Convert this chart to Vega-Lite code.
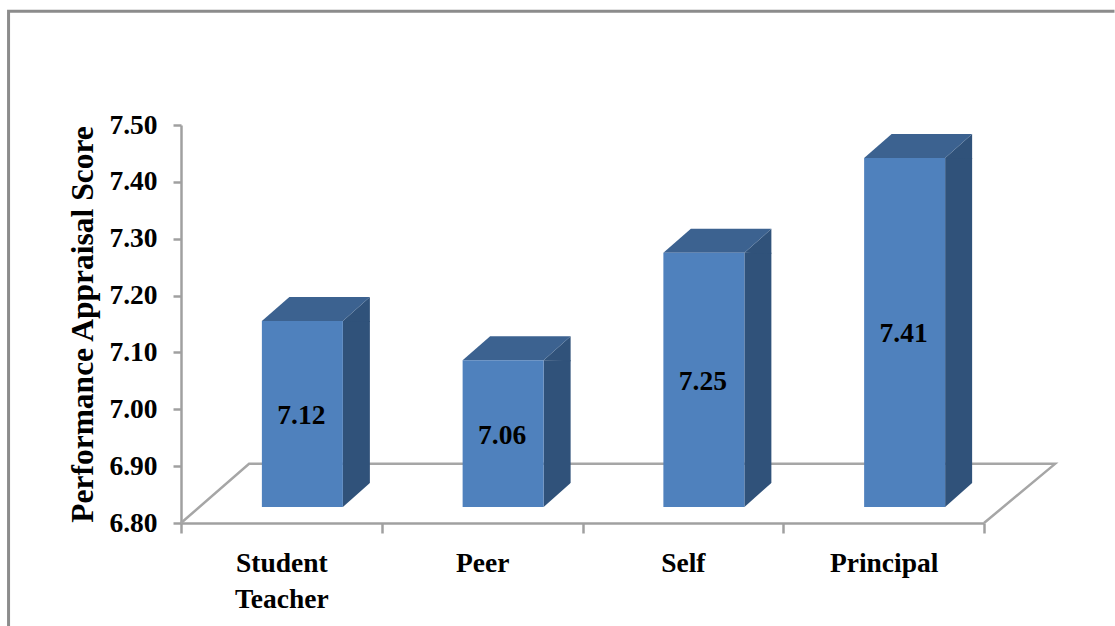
{
"$schema":"https://vega.github.io/schema/vega-lite/v6.json",
"width":803,"height":398,
"autosize":{"type":"none"},
"padding":{"left":181,"top":125,"right":131,"bottom":103},
"background":"white",
"config":{"view":{"stroke":null},"font":"Liberation Serif",
 "axisY":{"grid":false,
    "domainColor":"#a0a0a0","domainWidth":2.5,"tickColor":"#a0a0a0","tickWidth":2.5,"tickSize":8,
    "labelFont":"Liberation Serif","labelFontWeight":"bold","labelFontSize":27.5,"labelColor":"black","labelPadding":16,
    "titleFont":"Liberation Serif","titleFontWeight":"bold","titleFontSize":31.5,"titleColor":"black","titlePadding":9}},
"datasets":{
"bars":[
{"category":"Student Teacher","score":7.12,"drawn":7.127},
{"category":"Peer","score":7.06,"drawn":7.058},
{"category":"Self","score":7.25,"drawn":7.247},
{"category":"Principal","score":7.41,"drawn":7.414}
],
"frame":[
{"i":0,"slot":-0.859,"level":6.619},
{"i":1,"slot":-0.859,"level":7.70},
{"i":2,"slot":4.65,"level":7.70}
],
"floor":[
{"i":0,"slot":0,"level":6.8},
{"i":1,"slot":0.339,"level":6.904},
{"i":2,"slot":4.354,"level":6.904},
{"i":3,"slot":4,"level":6.8}
]
},
"resolve":{"scale":{"x":"independent","y":"shared"},"axis":{"x":"independent","y":"shared"}},
"layer":[
{"data":{"name":"frame"},
 "mark":{"type":"line","color":"#8c8c8c","strokeWidth":3,"clip":false},
 "encoding":{
  "x":{"field":"slot","type":"quantitative","scale":{"domain":[0,4],"nice":false,"zero":false},"axis":null},
  "y":{"field":"level","type":"quantitative","scale":{"domain":[6.8,7.5],"nice":false,"zero":false},"title":"Performance Appraisal Score","axis":{"values":[6.8,6.9,7.0,7.1,7.2,7.3,7.4,7.5],"format":".2f"}},
  "order":{"field":"i"}}},
{"data":{"name":"floor"},
 "mark":{"type":"line","color":"#a6a6a6","strokeWidth":2.5,"clip":false},
 "encoding":{
  "x":{"field":"slot","type":"quantitative","scale":{"domain":[0,4],"nice":false,"zero":false},"axis":null},
  "y":{"field":"level","type":"quantitative","title":"Performance Appraisal Score","axis":{"values":[6.8,6.9,7.0,7.1,7.2,7.3,7.4,7.5],"format":".2f"}},
  "order":{"field":"i"}}},
{"data":{"name":"bars"},
 "encoding":{
  "x":{"field":"category","type":"nominal","sort":null,"scale":{"paddingInner":0,"paddingOuter":0},
   "axis":{"title":null,"labelAngle":0,"tickBand":"extent","domainColor":"#a0a0a0","domainWidth":2.5,"tickColor":"#a0a0a0","tickWidth":2.5,"tickSize":10,
    "labelFont":"Liberation Serif","labelFontWeight":"bold","labelFontSize":27.5,"labelColor":"black","labelPadding":16,"labelLineHeight":36,"labelLimit":300,
    "labelExpr":"datum.label == 'Student Teacher' ? ['Student','Teacher'] : datum.label"}},
  "y":{"field":"drawn","type":"quantitative","title":"Performance Appraisal Score","axis":{"values":[6.8,6.9,7.0,7.1,7.2,7.3,7.4,7.5],"format":".2f"}}
 },
 "layer":[
  {"mark":{"type":"bar","size":27,"xOffset":75,"yOffset":-16,"y2Offset":-16,"color":"#30527a"},"encoding":{"y2":{"datum":6.8}}},
  {"mark":{"type":"point","filled":true,"opacity":1,"size":4,"color":"#30527a","strokeWidth":0,"shape":"M61.5,-16 L88.5,-40 L88.5,-15 Z"}},
  {"mark":{"type":"point","filled":true,"opacity":1,"size":4,"color":"white","strokeWidth":0,"shape":"M61.5,-16 L88.5,-40 L89.5,-40 L89.5,-15 L61.5,-15 Z"},"encoding":{"y":{"datum":6.8,"title":"Performance Appraisal Score"}}},
  {"mark":{"type":"point","filled":true,"opacity":1,"size":4,"color":"#3c6290","strokeWidth":0,"shape":"M-19.5,-16 L61.5,-16 L88.5,-40 L8,-40 Z"}},
  {"mark":{"type":"bar","size":81,"xOffset":21,"yOffset":-16,"y2Offset":-16,"color":"#4f81bd"},"encoding":{"y2":{"datum":6.8}}},
  {"transform":[{"calculate":"(datum.drawn + 6.8) / 2","as":"middle"}],
   "mark":{"type":"text","font":"Liberation Serif","fontWeight":"bold","fontSize":27.5,"color":"black","xOffset":20,"yOffset":-14,"baseline":"middle"},
   "encoding":{"y":{"field":"middle","type":"quantitative","title":"Performance Appraisal Score"},"text":{"field":"score","type":"quantitative","format":".2f"}}}
 ]}
]
}
